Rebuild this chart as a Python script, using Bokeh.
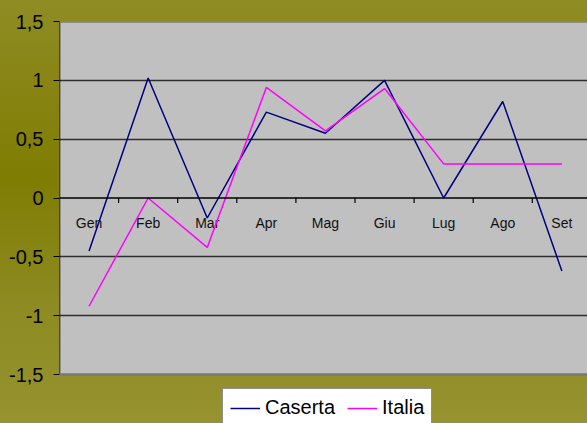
import math
from bokeh.plotting import figure
from bokeh.models import (FixedTicker, Legend, LegendItem, Span, ColumnDataSource,
                          BoxAnnotation, GlobalInlineStyleSheet)
from bokeh.core.properties import value
from bokeh.embed import file_html
from bokeh.resources import INLINE

months = ["Gen", "Feb", "Mar", "Apr", "Mag", "Giu", "Lug", "Ago", "Set"]
caserta = [-0.45, 1.02, -0.17, 0.73, 0.55, 1.00, 0.00, 0.82, -0.62]
italia = [-0.92, 0.00, -0.42, 0.94, 0.57, 0.93, 0.29, 0.29, 0.29]
y_ticks = [-1.5, -1.0, -0.5, 0.0, 0.5, 1.0, 1.5]
y_tick_labels = ["-1,5", "-1", "-0,5", "0", "0,5", "1", "1,5"]

FONT = "'Liberation Sans', Arial, sans-serif"
GRADIENT = "linear-gradient(to bottom, #8f8c24 0%, #807d03 42%, #8c8a20 70%, #969330 100%)"

W, H = 587, 423
LEFT, TOP = 59, 21
PLOT_H = 353                       # pixel height of the -1.5..1.5 plot area
CAT_W = 59.1                       # pixel width of one category slot
px_per_unit = PLOT_H / (y_ticks[-1] - y_ticks[0])
y_bottom = y_ticks[0] - (H - TOP - PLOT_H) / px_per_unit
x_end = (W - LEFT) / CAT_W

xs = [i + 0.5 for i in range(len(months))]
src = ColumnDataSource(dict(x=xs, m=months, c=caserta, it=italia))

p = figure(width=W, height=H, output_backend="svg", toolbar_location=None,
           x_range=(0, x_end), y_range=(y_bottom, y_ticks[-1]),
           x_axis_location=None,
           min_border_left=LEFT, min_border_right=0, min_border_top=TOP,
           min_border_bottom=0)
p.border_fill_alpha = 0
p.background_fill_alpha = 0
p.outline_line_color = None
p.stylesheets = [GlobalInlineStyleSheet(
    css="html, body{background:%s; background-attachment:fixed;}" % GRADIENT)]

# gray plot area
p.add_layout(BoxAnnotation(bottom=y_ticks[0], top=y_ticks[-1], fill_color="#c0c0c0",
                           fill_alpha=1, line_color=None, level="image"))

# y axis
p.yaxis.ticker = FixedTicker(ticks=y_ticks)
p.yaxis.major_label_overrides = {t: l for t, l in zip(y_ticks, y_tick_labels)}
p.yaxis.major_label_text_font = FONT
p.yaxis.major_label_text_font_size = "20px"
p.yaxis.major_label_text_color = "#000000"
p.yaxis.major_tick_out = 6
p.yaxis.major_tick_in = 0
p.yaxis.minor_tick_line_color = None
p.yaxis.major_label_standoff = 10
p.yaxis.axis_line_color = None
p.yaxis.major_tick_line_color = "#000000"

# grids
p.xgrid.grid_line_color = None
p.ygrid.ticker = FixedTicker(ticks=[-1.0, -0.5, 0.5, 1.0])
p.ygrid.grid_line_color = "#2e2e2e"
p.ygrid.grid_line_width = 1.5
for yv in (y_ticks[0], y_ticks[-1]):
    p.add_layout(Span(location=yv, dimension="width", line_color="#7a7a7a", line_width=2.5))

# left axis line and zero line with category separators
p.segment(x0=[0], y0=[y_ticks[0]], x1=[0], y1=[y_ticks[-1]], line_color="#000000", line_width=1.5)
p.add_layout(Span(location=0, dimension="width", line_color="#000000", line_width=1.5))
p.ray(x=[i + 1 for i in range(len(months) - 1)], y=0, length=5, length_units="screen",
      angle=-math.pi / 2, line_color="#000000", line_width=1.2)

# category labels
p.text(x="x", y=0, text="m", source=src, text_font=value(FONT),
       text_font_size="14px", text_align="center", text_baseline="middle",
       y_offset=25, text_color="#111111")

r1 = p.line("x", "c", source=src, line_color="#000080", line_width=1.5)
r2 = p.line("x", "it", source=src, line_color="#ff00ff", line_width=1.5)

legend = Legend(items=[LegendItem(label="Caserta", renderers=[r1]),
                       LegendItem(label="Italia", renderers=[r2])],
                orientation="horizontal", location=(163, -4))
legend.label_text_font = FONT
legend.label_text_font_size = "20px"
legend.label_text_color = "#000000"
legend.glyph_width = 30
legend.label_standoff = 5
legend.spacing = 12
legend.padding = 7
legend.margin = 0
legend.border_line_color = "#222222"
legend.border_line_width = 1
legend.background_fill_color = "#ffffff"
legend.background_fill_alpha = 1.0
p.add_layout(legend, "center")

open("out.html", "w").write(file_html(p, INLINE))
